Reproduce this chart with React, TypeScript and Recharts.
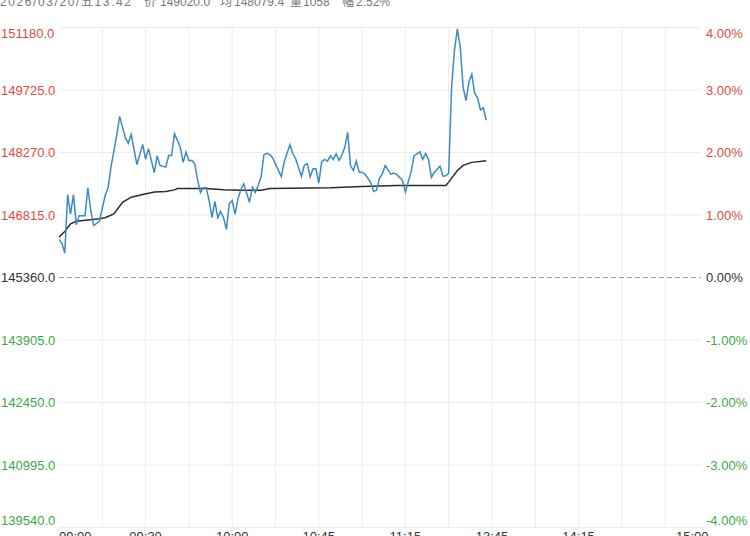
import React from 'react';
import { LineChart, Line, XAxis, YAxis, ReferenceLine } from 'recharts';

// minute slot (0 = 09:00, 225 = 15:00, lunch and 10:15-10:30 break skipped)
const priceSlots = [
  0, 1, 2, 3, 4, 5, 6, 7, 9, 10, 11, 12, 14, 16, 17, 18, 20, 21, 23, 24, 25, 26, 27, 29, 30, 31, 33, 34, 35, 37,
  38, 39, 40, 42, 43, 44, 45, 46, 47, 48, 49, 50, 51, 52, 53, 54, 55, 56, 57, 58, 59, 60, 61, 62, 63, 64, 66, 67,
  68, 69, 70, 71, 72, 73, 74, 77, 78, 80, 81, 82, 84, 85, 86, 87, 88, 89, 90, 91, 92, 93, 94, 95, 96, 97, 98, 99,
  100, 101, 102, 103, 104, 105, 106, 108, 109, 110, 111, 112, 113, 115, 116, 117, 119, 120, 122, 123, 124, 125,
  126, 127, 128, 129, 130, 132, 133, 134, 135, 136, 137, 138, 139, 140, 141, 142, 143, 144, 145, 146, 147, 148,
];
const priceValues = [
  146240, 146160, 145930, 147290, 146840, 147290, 146590, 146800, 146800, 147450, 146920, 146570, 146670, 147270,
  147450, 147930, 148670, 149110, 148610, 148490, 148690, 148340, 147990, 148460, 148110, 148360, 147800, 148190,
  147970, 147930, 148200, 148200, 148710, 148400, 148040, 148280, 148080, 148090, 148010, 147640, 147340, 147450,
  147450, 147150, 146760, 147130, 146750, 146900, 146750, 146480, 147080, 147150, 146830, 147190, 147410, 147540,
  147110, 147460, 147340, 147500, 147700, 148220, 148250, 148220, 148150, 147710, 148050, 148450, 148240, 148120,
  147710, 147980, 148010, 147700, 147890, 147890, 147560, 148050, 148110, 148070, 148190, 148110, 148240, 148090,
  148210, 148390, 148740, 147960, 147850, 148070, 147810, 147810, 147770, 147570, 147360, 147390, 147670, 147770,
  147970, 147760, 147790, 147760, 147620, 147350, 147830, 148190, 148240, 148290, 148110, 148250, 148110, 147690,
  147810, 147950, 147720, 147730, 147790, 149790, 150650, 151150, 150720, 149790, 149480, 149910, 150090, 149650,
  149540, 149260, 149310, 149020,
];
const avgSlots = [0, 2, 4, 6, 10, 14, 16, 19, 22, 25, 29, 33, 37, 40, 41, 51, 57, 63, 70, 73, 94, 105, 117, 134, 135, 138, 140, 143, 148];
const avgValues = [
  146300, 146430, 146610, 146670, 146700, 146730, 146750, 146840, 147110, 147230, 147290, 147350, 147360, 147400,
  147430, 147430, 147400, 147390, 147390, 147430, 147450, 147480, 147500, 147500, 147580, 147850, 147970, 148040,
  148079.4,
];

const baseClose = 145360;
const priceTicks = [139540, 140995, 142450, 143905, 145360, 146815, 148270, 149725, 151180];
const pctTicks = [-4, -3, -2, -1, 0, 1, 2, 3, 4];
const gridSlots = [15, 30, 45, 60, 75, 90, 105, 120, 135, 150, 165, 180, 195, 210];
const timeTickSlots = [0, 30, 60, 90, 120, 150, 180, 225];
const timeLabels = ['09:00', '09:30', '10:00', '10:45', '11:15', '13:45', '14:15', '15:00'];
const headerParts = ['2026/03/20/五13:42', '价', '149020.0', '均', '148079.4', '量', '1058', '幅', '2.52%'];

const RED = '#de4a40';
const GREEN = '#3aaa45';
const DARK = '#333333';
const FONT = '"Liberation Sans", Arial, "Noto Sans CJK SC", sans-serif';

const priceData = priceSlots.map((t, i) => ({ t, v: priceValues[i] }));
const avgData = avgSlots.map((t, i) => ({ t, v: avgValues[i] }));

const colorFor = (sign: number) => (sign > 0 ? RED : sign < 0 ? GREEN : DARK);

// left price label plus the matching percent label on the right edge
const PriceTick = (props: any) => {
  const { y, payload, index } = props;
  const v = payload.value as number;
  const last = priceTicks.length - 1;
  const i = typeof index === 'number' ? index : priceTicks.indexOf(v);
  const dy = i === last ? 10.5 : i === 0 ? -3 : 4.5;
  const pct = pctTicks[i];
  return (
    <g>
      <text x={1} y={y + dy} fill={colorFor(v - baseClose)} fontSize={13} fontFamily={FONT}>
        {v.toFixed(1)}
      </text>
      <rect x={701} y={y + dy - 11} width={49} height={14} fill="#fff" />
      <text x={706} y={y + dy} fill={colorFor(pct)} fontSize={13} fontFamily={FONT}>
        {pct.toFixed(2) + '%'}
      </text>
    </g>
  );
};

const TimeTick = (props: any) => {
  const { x, payload } = props;
  const i = timeTickSlots.indexOf(payload.value);
  if (i < 0) return <g />;
  const anchor = i === 0 ? 'start' : i === timeTickSlots.length - 1 ? 'end' : 'middle';
  return (
    <text x={x} y={541} textAnchor={anchor} fill={DARK} fontSize={13} fontFamily={FONT}>
      {timeLabels[i]}
    </text>
  );
};

const headerX = [0, 144, 160, 220, 234, 290, 303, 342, 356];

export default function App() {
  return (
    <div style={{ position: 'absolute', left: 0, top: 0, width: 750, height: 536, overflow: 'hidden', background: '#fff' }}>
      {headerParts.map((s, i) => (
        <span
          key={i}
          style={{
            position: 'absolute',
            left: headerX[i],
            top: -4,
            fontSize: 12,
            lineHeight: '12px',
            color: '#777',
            fontFamily: FONT,
            whiteSpace: 'nowrap',
            letterSpacing: i === 0 ? 1.6 : 0,
          }}
        >
          {s}
        </span>
      ))}
      <LineChart width={750} height={550} margin={{ top: 27.5, right: 41.5, bottom: 0, left: 0 }}>
        <XAxis
          type="number"
          dataKey="t"
          domain={[0, 225]}
          ticks={timeTickSlots}
          interval={0}
          height={22.5}
          axisLine={false}
          tickLine={false}
          tick={<TimeTick />}
          allowDataOverflow
        />
        <YAxis
          yAxisId="price"
          domain={[priceTicks[0], priceTicks[priceTicks.length - 1]]}
          ticks={priceTicks}
          interval={0}
          width={59}
          axisLine={false}
          tickLine={false}
          tick={<PriceTick />}
          allowDataOverflow
        />
        {gridSlots.map((s) => (
          <ReferenceLine key={'x' + s} x={s} yAxisId="price" stroke="#ececec" strokeWidth={1} />
        ))}
        {priceTicks.map((v) => (
          <ReferenceLine
            key={'y' + v}
            y={v}
            yAxisId="price"
            stroke={v === baseClose ? '#9a9a9a' : '#ececec'}
            strokeDasharray={v === baseClose ? '5 3' : undefined}
            strokeWidth={1}
          />
        ))}
        <Line
          yAxisId="price"
          data={avgData}
          dataKey="v"
          type="linear"
          stroke="#2b2b2b"
          strokeWidth={1.5}
          dot={false}
          isAnimationActive={false}
        />
        <Line
          yAxisId="price"
          data={priceData}
          dataKey="v"
          type="linear"
          stroke="#3b8bc2"
          strokeWidth={1.5}
          dot={false}
          isAnimationActive={false}
        />
      </LineChart>
    </div>
  );
}
